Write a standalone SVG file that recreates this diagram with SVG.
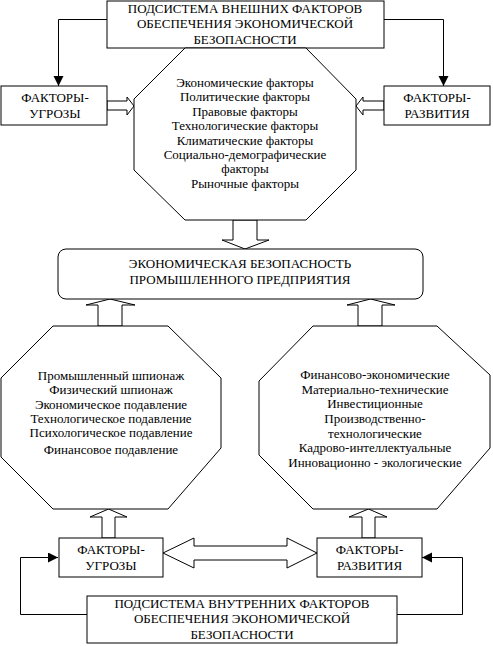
<svg xmlns="http://www.w3.org/2000/svg" width="493" height="646" viewBox="0 0 493 646" font-family="'Liberation Serif', 'DejaVu Serif', serif" font-size="13">
<defs>
<style>
.b{fill:#fff;stroke:#000;stroke-width:1}
.l{fill:none;stroke:#000;stroke-width:1}
.h{fill:#fff;stroke:#000;stroke-width:1}
text{font-family:'Liberation Serif','DejaVu Serif',serif;font-size:13px;fill:#000;text-anchor:middle}
</style>
<marker id="ah" markerWidth="11" markerHeight="11" refX="10" refY="5" orient="auto" markerUnits="userSpaceOnUse">
<path d="M0,0 L10,5 L0,10 Z" fill="#000"/>
</marker>
</defs>
<rect width="493" height="646" fill="#fff"/>

<g id="connectors">
<polyline class="l" points="107,19.5 58.5,19.5 58.5,86" marker-end="url(#ah)"/>
<polyline class="l" points="384,19.5 443.5,19.5 443.5,86" marker-end="url(#ah)"/>
<polyline class="l" points="87,614.5 20.5,614.5 20.5,557.5 58,557.5" marker-end="url(#ah)"/>
<polyline class="l" points="397,614.5 462.5,614.5 462.5,557.5 422,557.5" marker-end="url(#ah)"/>
<polygon class="h" points="107,101 127,101 127,97 134,106 127,115 127,110 107,110"/>
<polygon class="h" points="384,101 363,101 363,97 356,106 363,115 363,110 384,110"/>
<polygon class="h" points="233,220 257,220 257,240 269,240 245,249 222,240 233,240"/>
<polygon class="h" points="110,299 135,305 122,305 122,326 98,326 98,305 86,305"/>
<polygon class="h" points="370.5,299 395,305 382,305 382,326 358,326 358,305 347,305"/>
<polygon class="h" points="108.5,509 127,517 115,517 115,538 102,538 102,517 90,517"/>
<polygon class="h" points="368.5,509 387,517 375,517 375,538 362,538 362,517 349,517"/>
<polygon class="h" points="163,553 194,538 194,546 287,546 287,538 317,553 287,568 287,560 194,560 194,568"/>
</g>

<g id="ext-subsystem">
<rect class="b" x="107" y="1" width="277" height="47"/>
<text x="245" y="13">ПОДСИСТЕМА ВНЕШНИХ ФАКТОРОВ</text>
<text x="245" y="28">ОБЕСПЕЧЕНИЯ ЭКОНОМИЧЕСКОЙ</text>
<text x="245" y="44">БЕЗОПАСНОСТИ</text>
</g>

<g id="ext-factors">
<polygon class="b" points="185,48 306,48 356,99 356,170 306,220 185,220 134,170 134,99"/>
<text x="245" y="87">Экономические факторы</text>
<text x="245" y="101.4">Политические факторы</text>
<text x="245" y="115.8">Правовые факторы</text>
<text x="245" y="130.2">Технологические факторы</text>
<text x="245" y="144.6">Климатические факторы</text>
<text x="245" y="159">Социально-демографические</text>
<text x="245" y="173.4">факторы</text>
<text x="245" y="187.8">Рыночные факторы</text>
</g>

<g id="ext-threats">
<rect class="b" x="1" y="86" width="106" height="39"/>
<text x="55" y="102">ФАКТОРЫ-</text>
<text x="55" y="117.5">УГРОЗЫ</text>
</g>

<g id="ext-development">
<rect class="b" x="384" y="86" width="106" height="39"/>
<text x="437" y="102">ФАКТОРЫ-</text>
<text x="437" y="117.5">РАЗВИТИЯ</text>
</g>

<g id="security">
<rect class="b" x="58" y="249" width="365" height="50" rx="8" ry="8"/>
<text x="240" y="267.5">ЭКОНОМИЧЕСКАЯ БЕЗОПАСНОСТЬ</text>
<text x="240" y="284">ПРОМЫШЛЕННОГО ПРЕДПРИЯТИЯ</text>
</g>

<g id="int-threats-list">
<polygon class="b" points="53,326 168,326 221,378 221,448 168,509 53,509 1,457 1,378"/>
<text x="111" y="380">Промышленный шпионаж</text>
<text x="111" y="394.3">Физический шпионаж</text>
<text x="111" y="408.6">Экономическое подавление</text>
<text x="111" y="422.9">Технологическое подавление</text>
<text x="111" y="437.2">Психологическое подавление</text>
<text x="111" y="454">Финансовое подавление</text>
</g>

<g id="int-development-list">
<polygon class="b" points="313,326 437,326 490,375 490,448 437,509 313,509 259,455 259,381"/>
<text x="375" y="379">Финансово-экономические</text>
<text x="375" y="393.7">Материально-технические</text>
<text x="375" y="408.3">Инвестиционные</text>
<text x="375" y="423">Производственно-</text>
<text x="375" y="437.7">технологические</text>
<text x="375" y="452.3">Кадрово-интеллектуальные</text>
<text x="375" y="467">Инновационно - экологические</text>
</g>

<g id="int-threats">
<rect class="b" x="59" y="538" width="104" height="39"/>
<text x="111" y="553.5">ФАКТОРЫ-</text>
<text x="111" y="569.5">УГРОЗЫ</text>
</g>

<g id="int-development">
<rect class="b" x="317" y="538" width="105" height="39"/>
<text x="369.5" y="553.5">ФАКТОРЫ-</text>
<text x="369.5" y="569.5">РАЗВИТИЯ</text>
</g>

<g id="int-subsystem">
<rect class="b" x="87" y="596" width="310" height="47"/>
<text x="242" y="608">ПОДСИСТЕМА ВНУТРЕННИХ ФАКТОРОВ</text>
<text x="242" y="623">ОБЕСПЕЧЕНИЯ ЭКОНОМИЧЕСКОЙ</text>
<text x="242" y="639">БЕЗОПАСНОСТИ</text>
</g>
</svg>
